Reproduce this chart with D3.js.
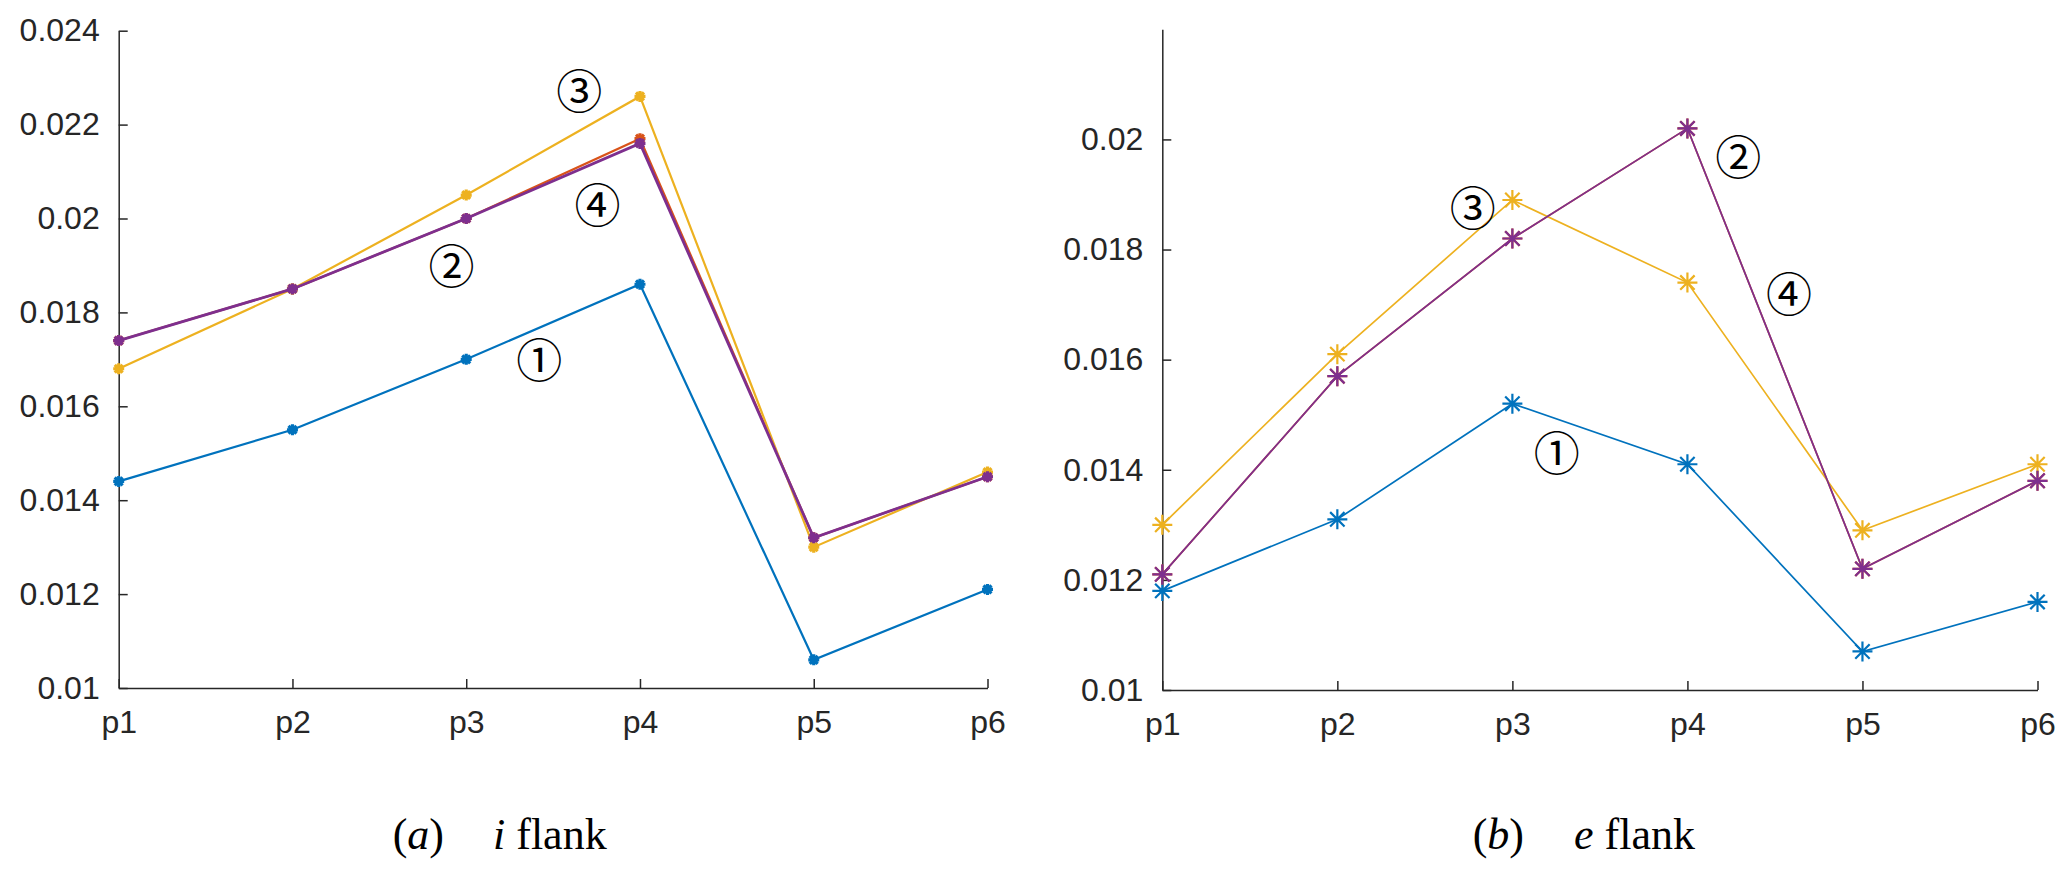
<html>
  <head>
    <meta charset="utf-8" />
    <script src="https://d3js.org/d3.v7.min.js"></script>
  </head>
  <style>
    body { margin: 0; background: #fff; }
    svg { display: block; }
    .axis path.domain, .axis line { stroke: #262626; stroke-width: 1.5; }
    .axis text { fill: #262626; font-family: "Liberation Sans", Arial, sans-serif; font-size: 32px; }
  </style>
  <body>
    <svg width="2067" height="879"></svg>
    <script>
      // categories and series
      const cats = ["p1", "p2", "p3", "p4", "p5", "p6"];

      // (a) i flank
      const iSeries1 = [0.0144, 0.0155, 0.0170, 0.0186, 0.0106, 0.0121];
      const iSeries2 = [0.0174, 0.0185, 0.0200, 0.0217, 0.0132, 0.0145];
      const iSeries3 = [0.0168, 0.0185, 0.0205, 0.0226, 0.0130, 0.0146];
      const iSeries4 = [0.0174, 0.0185, 0.0200, 0.0216, 0.0132, 0.0145];
      const iTicks = [0.01, 0.012, 0.014, 0.016, 0.018, 0.02, 0.022, 0.024];
      const iLabels = [
        { t: "①", x: 2.42, y: 0.01706 },
        { t: "②", x: 1.915, y: 0.01906 },
        { t: "③", x: 2.65, y: 0.02277 },
        { t: "④", x: 2.755, y: 0.02036 }
      ];

      // (b) e flank
      const eSeries1 = [0.0118, 0.0131, 0.0152, 0.0141, 0.0107, 0.0116];
      const eSeries2 = [0.0121, 0.0157, 0.0182, 0.0202, 0.0122, 0.0138];
      const eSeries3 = [0.0130, 0.0161, 0.0189, 0.0174, 0.0129, 0.0141];
      const eSeries4 = [0.0121, 0.0157, 0.0182, 0.0202, 0.0122, 0.0138];
      const eTicks = [0.01, 0.012, 0.014, 0.016, 0.018, 0.02];
      const eLabels = [
        { t: "①", x: 2.254, y: 0.01435 },
        { t: "②", x: 3.29, y: 0.01974 },
        { t: "③", x: 1.774, y: 0.0188 },
        { t: "④", x: 3.58, y: 0.017255 }
      ];

      const colors = ["#0072BD", "#D95319", "#EDB120", "#7E2F8E"];
      const svg = d3.select("svg");

      // asterisk marker path (8 arms)
      function star(r) {
        const d = r * 0.72;
        return `M0,${-r}V${r}M${-r},0H${r}M${-d},${-d}L${d},${d}M${-d},${d}L${d},${-d}`;
      }

      function panel(opt) {
        const x = d3.scaleLinear().domain([0, cats.length - 1]).range([opt.left, opt.right]);
        const y = d3.scaleLinear().domain(opt.yDomain).range([opt.bottom, opt.top]);
        const g = svg.append("g");

        // x axis
        const xAxis = d3.axisBottom(x)
          .tickValues(d3.range(cats.length))
          .tickFormat((i) => cats[i])
          .tickSizeInner(-9)
          .tickSizeOuter(0)
          .tickPadding(22);
        const xg = g.append("g").attr("class", "axis")
          .attr("transform", `translate(0,${opt.bottom})`)
          .call(xAxis);
        xg.selectAll("text").attr("dy", "0.71em");

        // y axis
        const yAxis = d3.axisLeft(y)
          .tickValues(opt.ticks)
          .tickFormat((d) => +d.toFixed(3) + "")
          .tickSizeInner(-9)
          .tickSizeOuter(0)
          .tickPadding(19);
        g.append("g").attr("class", "axis")
          .attr("transform", `translate(${opt.left},0)`)
          .call(yAxis);

        // lines and markers
        const line = d3.line().x((d, i) => x(i)).y((d) => y(d));
        opt.series.forEach((s, k) => {
          g.append("path")
            .datum(s)
            .attr("d", line)
            .attr("fill", "none")
            .attr("stroke", colors[k])
            .attr("stroke-width", opt.lineWidth[k]);
          g.selectAll(null)
            .data(s)
            .enter()
            .append("path")
            .attr("transform", (d, i) => `translate(${x(i)},${y(d)})`)
            .attr("d", star(opt.markerR))
            .attr("fill", "none")
            .attr("stroke", colors[k])
            .attr("stroke-width", opt.markerW);
        });

        // circled labels
        g.selectAll("text.lab")
          .data(opt.labels)
          .enter()
          .append("text")
          .attr("class", "lab")
          .attr("x", (d) => x(d.x))
          .attr("y", (d) => y(d.y))
          .attr("text-anchor", "middle")
          .attr("dominant-baseline", "central")
          .style("font-family", "'Noto Sans CJK SC', 'DejaVu Sans', sans-serif")
          .style("font-size", "46px")
          .style("fill", "#000")
          .text((d) => d.t);

        // caption
        const cap = g.append("text")
          .attr("x", opt.capX)
          .attr("y", 849)
          .style("font-family", "'Liberation Serif', 'Times New Roman', serif")
          .style("font-size", "44px")
          .style("fill", "#000");
        cap.append("tspan").text("(");
        cap.append("tspan").style("font-style", "italic").text(opt.capLetter);
        cap.append("tspan").text(")");
        cap.append("tspan").attr("dx", opt.capGap).style("font-style", "italic").text(opt.capVar);
        cap.append("tspan").text(" flank");
      }

      panel({
        left: 118.7, right: 987.5, top: 30.7, bottom: 688,
        yDomain: [0.01, 0.024], ticks: iTicks,
        series: [iSeries1, iSeries2, iSeries3, iSeries4],
        lineWidth: [2.2, 2.2, 2.2, 2.8], markerR: 5.5, markerW: 3.2,
        labels: iLabels,
        capX: 392.7, capLetter: "a", capGap: 49, capVar: "i"
      });

      panel({
        left: 1162.3, right: 2037.5, top: 29.3, bottom: 690,
        yDomain: [0.01, 0.022], ticks: eTicks,
        series: [eSeries1, eSeries2, eSeries3, eSeries4],
        lineWidth: [1.7, 1.7, 1.7, 1.7], markerR: 10, markerW: 2.2,
        labels: eLabels,
        capX: 1472.7, capLetter: "b", capGap: 50, capVar: "e"
      });
    </script>
  </body>
</html>
